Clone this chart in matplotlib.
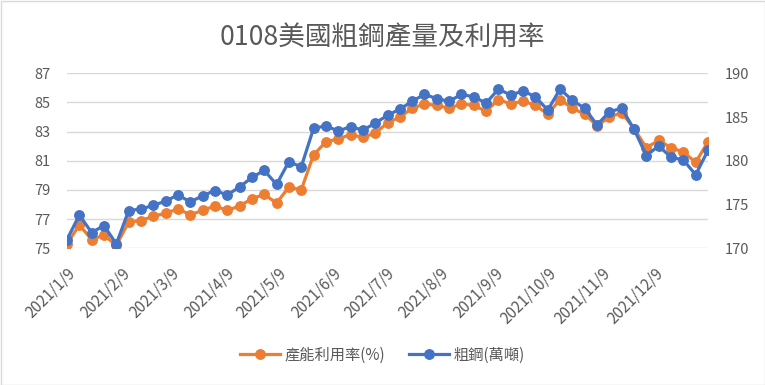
import numpy as np
import pandas as pd
import matplotlib
matplotlib.use("Agg")
import matplotlib.pyplot as plt
from matplotlib.patches import Rectangle

plt.rcParams['font.family'] = ['Noto Sans CJK TC', 'DejaVu Sans']

# weekly data, 2021/1/9 .. 2022/1/8
dates = pd.date_range('2021-01-09', '2022-01-08', freq='7D')

util = [75.3, 76.6, 75.6, 75.9, 75.2, 76.8, 76.9, 77.2, 77.4, 77.7,
        77.3, 77.6, 77.9, 77.6, 77.9, 78.4, 78.7, 78.1, 79.2, 79.0,
        81.4, 82.3, 82.5, 82.8, 82.6, 82.9, 83.6, 84.0, 84.6, 84.9,
        84.8, 84.6, 84.9, 84.8, 84.4, 85.2, 84.9, 85.1, 84.8, 84.2,
        85.2, 84.6, 84.2, 83.4, 84.0, 84.3, 83.2, 81.9, 82.4, 81.9,
        81.6, 80.9, 82.3]

steel = [171.0, 173.8, 171.8, 172.6, 170.5, 174.3, 174.5, 174.9, 175.4, 176.1,
         175.3, 176.0, 176.6, 176.1, 177.0, 178.1, 178.9, 177.3, 179.9, 179.3,
         183.7, 184.0, 183.4, 183.9, 183.5, 184.3, 185.2, 185.9, 186.8, 187.6,
         187.1, 186.8, 187.6, 187.3, 186.6, 188.2, 187.5, 188.0, 187.3, 185.8,
         188.2, 186.9, 186.0, 184.1, 185.6, 186.0, 183.6, 180.6, 181.7, 180.4,
         180.1, 178.4, 181.2]

tick_dates = pd.to_datetime(['2021-%02d-09' % m for m in range(1, 13)])
tick_labels = ['2021/%d/9' % m for m in range(1, 13)]

title = '0108美國粗鋼產量及利用率'
orange = '#ED7D31'
blue = '#4472C4'
txt = '#595959'
grid = '#D9D9D9'

fig = plt.figure(figsize=(7.65, 3.85), dpi=100)
ax = fig.add_axes([67/765, 1-248.3/385, (708-67)/765, (248.3-73.3)/385])
ax2 = ax.twinx()

l1, = ax.plot(dates, util, color=orange, lw=2.3, marker='o', ms=6.8, label='產能利用率(%)')
l2, = ax2.plot(dates, steel, color=blue, lw=2.3, marker='o', ms=6.8, label='粗鋼(萬噸)')

ax.set_xlim(dates[0], dates[-1])
ax.set_ylim(75, 87)
ax.set_yticks(np.arange(75, 88, 2))
ax2.set_ylim(170, 190)
ax2.set_yticks(np.arange(170, 191, 5))

ax.grid(axis='y', color=grid, lw=1)
ax.set_axisbelow(True)
for a in (ax, ax2):
    for s in a.spines.values():
        s.set_visible(False)
    a.tick_params(length=0, labelsize=10.5, colors=txt)
ax.tick_params(axis='y', pad=12)
ax2.tick_params(axis='y', pad=12)

ax.set_xticks(tick_dates)
ax.set_xticklabels(tick_labels, rotation=45, ha='right', rotation_mode='anchor')
ax.tick_params(axis='x', pad=12, labelsize=11)

fig.text(0.5, 1-38/385, title, ha='center', va='center', fontsize=19.2, color=txt)

fig.legend([l1, l2], ['產能利用率(%)', '粗鋼(萬噸)'], loc='center',
           bbox_to_anchor=(0.5, 1-355/385), ncol=2, frameon=False,
           fontsize=11, labelcolor=txt, handlelength=2.6, columnspacing=1.6,
           handletextpad=0.3)

fig.patches.append(Rectangle((0.5/765, 0.5/385), 1-1/765, 1-1/385,
                             transform=fig.transFigure, fill=False,
                             edgecolor=grid, lw=1))

fig.savefig('out.png', dpi=100)
